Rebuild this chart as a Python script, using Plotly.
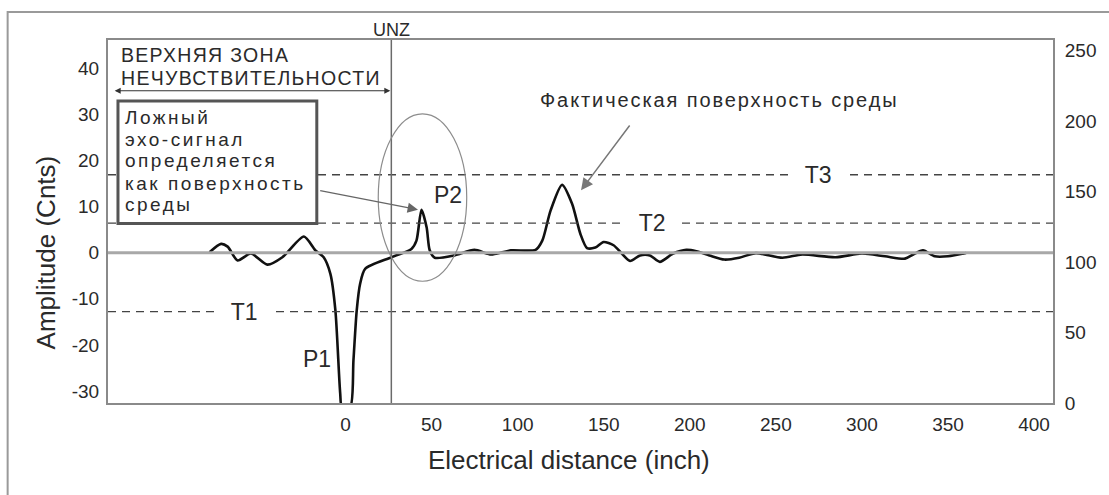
import plotly.graph_objects as go

# ---------------- data ----------------
x_inch = [-79, -72.3, -68.5, -62.7, -55, -45.4, -36.7, -24.2, -17.5, -12.7,
          -8.8, -5.9, -3.1, -2.1, 2.7, 4.6, 6.5, 8.5, 11.4, 26.7,
          38.3, 41.2, 44.1, 47.1, 48.9, 51.8, 63.3, 74.9, 84.5, 96,
          110.4, 114.3, 119.1, 125.8, 131.6, 136.4, 140.3, 145.1, 149.9, 155.7,
          160.5, 165.3, 171.1, 176.8, 182.6, 190.3, 198, 203.8, 211.4, 220.1,
          228.7, 238.4, 253.8, 265.3, 284.6, 300, 313.4, 325, 329.8, 335.5,
          342.3, 350, 360.5]
amplitude = [0.1, 1.9, 1.3, -1.7, -0.2, -2.6, -1.0, 3.5, 0.5, -1.0,
             -4.6, -12.5, -30.5, -33.5, -33.5, -23.3, -12.5, -6.7, -3.5, -1.0,
             0.8, 2.6, 9.3, 5.5, 0.5, -1.1, -0.6, 0.6, -0.4, 0.5,
             0.6, 2.6, 9.1, 14.7, 10.6, 4.1, 1.0, 1.1, 2.3, 1.6,
             -0.2, -1.8, -0.6, -0.6, -2.0, -0.2, 0.6, 0.3, -0.6, -1.5,
             -1.1, -0.1, -1.1, -0.4, -1.0, -0.2, -0.8, -1.3, -0.4, 0.5,
             -0.8, -0.8, -0.1]

threshold_names = ["T1", "T2", "T3"]
threshold_values = [-12.8, 6.4, 16.9]
threshold_label_x = [-58.9, 177.8, 274.2]

peak_names = ["P1", "P2"]
peak_label_x = [-16.7, 59.5]
peak_label_y = [-23.1, 12.6]

unz_x = 26.6

x_ticks = [0, 50, 100, 150, 200, 250, 300, 350, 400]
y_ticks = [-30, -20, -10, 0, 10, 20, 30, 40]
y_tick_text = ["-30", "-20", "-10", "0", "10", "20", "30", "40"]
y2_ticks = [0, 50, 100, 150, 200, 250]

box_lines = ["Ложный", "эхо-сигнал", "определяется", "как поверхность", "среды"]
zone_lines = ["ВЕРХНЯЯ ЗОНА", "НЕЧУВСТВИТЕЛЬНОСТИ"]
surface_text = "Фактическая поверхность среды"

# ---------------- figure ----------------
FONT = "Liberation Sans, Arial, sans-serif"
TXT = "#2a2a2a"
AX = "#8a8a8a"


def spaced(t, px):
    return '<span style="letter-spacing:%.1fpx">%s</span>' % (px, t)


fig = go.Figure()

fig.add_trace(go.Scatter(
    x=x_inch, y=amplitude, mode="lines",
    line=dict(color="#111111", width=2.6, shape="spline", smoothing=0.7),
    showlegend=False, hoverinfo="skip"))

# invisible trace to activate right axis
fig.add_trace(go.Scatter(x=[None], y=[None], yaxis="y2", showlegend=False))

shapes = []
# outer frame
shapes.append(dict(type="rect", xref="paper", yref="paper",
                   x0=-0.1062, x1=1.07, y0=-0.3, y1=1.0771,
                   line=dict(color="#9a9a9a", width=2), fillcolor="rgba(0,0,0,0)"))
# baseline
shapes.append(dict(type="line", xref="paper", yref="y", x0=0, x1=1, y0=0, y1=0,
                   line=dict(color="#a8a8a8", width=3)))
# thresholds
for v in threshold_values:
    shapes.append(dict(type="line", xref="paper", yref="y", x0=0, x1=1, y0=v, y1=v,
                       line=dict(color="#444444", width=1.4, dash="8px,6px")))
# UNZ line
shapes.append(dict(type="line", xref="x", yref="paper", x0=unz_x, x1=unz_x, y0=0, y1=1,
                   line=dict(color="#6a6a6a", width=1.5)))
# ellipse
shapes.append(dict(type="circle", xref="x", yref="y", x0=19.0, x1=70.4, y0=-6.2, y1=30.1,
                   line=dict(color="#8c8c8c", width=1.2)))
# box
shapes.append(dict(type="rect", xref="x", yref="y", x0=-132.2, x1=-16.7, y0=6.3, y1=32.9,
                   line=dict(color="#555555", width=3), fillcolor="white"))

annotations = []
for name, v, lx in zip(threshold_names, threshold_values, threshold_label_x):
    annotations.append(dict(x=lx, y=v, xref="x", yref="y",
                            text="&nbsp;&nbsp;" + name + "&nbsp;&nbsp;", showarrow=False,
                            bgcolor="white", font=dict(size=23, color=TXT, family=FONT),
                            borderpad=0))
for name, px_, py_ in zip(peak_names, peak_label_x, peak_label_y):
    annotations.append(dict(x=px_, y=py_, xref="x", yref="y", text=name, showarrow=False,
                            font=dict(size=23, color=TXT, family=FONT)))

# UNZ label
annotations.append(dict(x=unz_x, y=1.0, xref="x", yref="paper", yanchor="bottom",
                        xanchor="center", text="UNZ", showarrow=False, yshift=-2,
                        font=dict(size=18, color=TXT, family=FONT)))

# zone text
zone_y = [42.8, 37.9]
for t, yy in zip(zone_lines, zone_y):
    annotations.append(dict(x=-131.0, y=yy, xref="x", yref="y", xanchor="left",
                            yanchor="middle", text=spaced(t, 1.3), showarrow=False,
                            borderpad=0,
                            font=dict(size=19.5, color=TXT, family=FONT)))
# double arrow
annotations.append(dict(x=26.0, y=35.1, ax=-135.0, ay=35.1, xref="x", yref="y",
                        axref="x", ayref="y", text="", showarrow=True,
                        arrowside="end+start", arrowhead=2, arrowsize=1,
                        arrowwidth=1.2, arrowcolor="#333333"))

# box text
box_y = [29.4, 24.6, 19.9, 15.0, 10.5]
for t, yy in zip(box_lines, box_y):
    annotations.append(dict(x=-128.7, y=yy, xref="x", yref="y", xanchor="left",
                            yanchor="middle", text=spaced(t, 2.5), showarrow=False,
                            borderpad=0,
                            font=dict(size=19, color=TXT, family=FONT)))
# arrow from box to P2
annotations.append(dict(x=42.1, y=9.3, ax=-15.6, ay=13.5, xref="x", yref="y",
                        axref="x", ayref="y", text="", showarrow=True,
                        arrowhead=2, arrowsize=1.6, arrowwidth=1.3, arrowcolor="#666666"))

# actual surface
annotations.append(dict(x=217, y=33.1, xref="x", yref="y", text=spaced(surface_text, 1.9),
                        xanchor="center", yanchor="middle",
                        showarrow=False, font=dict(size=20, color=TXT, family=FONT)))
annotations.append(dict(x=136.8, y=13.5, ax=165.7, ay=27.9, xref="x", yref="y",
                        axref="x", ayref="y", text="", showarrow=True,
                        arrowhead=2, arrowsize=1.6, arrowwidth=1.5, arrowcolor="#777777"))

# axis titles
annotations.append(dict(x=-0.0652, y=0.416, xref="paper", yref="paper", textangle=-90,
                        xanchor="center", yanchor="middle",
                        text="Amplitude (Cnts)", showarrow=False,
                        font=dict(size=26, color=TXT, family=FONT)))
annotations.append(dict(x=0.488, y=-0.157, xref="paper", yref="paper",
                        xanchor="center", yanchor="middle",
                        text="Electrical distance (inch)", showarrow=False,
                        font=dict(size=26, color=TXT, family=FONT)))

fig.update_layout(
    width=1109, height=495,
    margin=dict(l=108, r=50, t=40, b=92),
    paper_bgcolor="white", plot_bgcolor="white",
    font=dict(family=FONT, color=TXT),
    shapes=shapes, annotations=annotations,
    xaxis=dict(range=[-138, 411], tickvals=x_ticks, showgrid=False, zeroline=False,
               showline=True, mirror=True, linecolor=AX, linewidth=2, ticks="",
               tickfont=dict(size=19, color=TXT), ticklabelstandoff=3),
    yaxis=dict(range=[-32.6, 46.1], tickvals=y_ticks, ticktext=y_tick_text,
               showgrid=False, zeroline=False,
               showline=True, linecolor=AX, linewidth=2, ticks="",
               tickfont=dict(size=19, color=TXT), ticklabelstandoff=3),
    yaxis2=dict(range=[0, 257.4], tickvals=y2_ticks, overlaying="y", side="right",
                showgrid=False, zeroline=False, showline=True, linecolor=AX, linewidth=2,
                ticks="", tickfont=dict(size=19, color=TXT), ticklabelstandoff=6),
)

fig.write_html("out.html", config={"displayModeBar": False},
               post_script="document.body.style.margin='0';")
